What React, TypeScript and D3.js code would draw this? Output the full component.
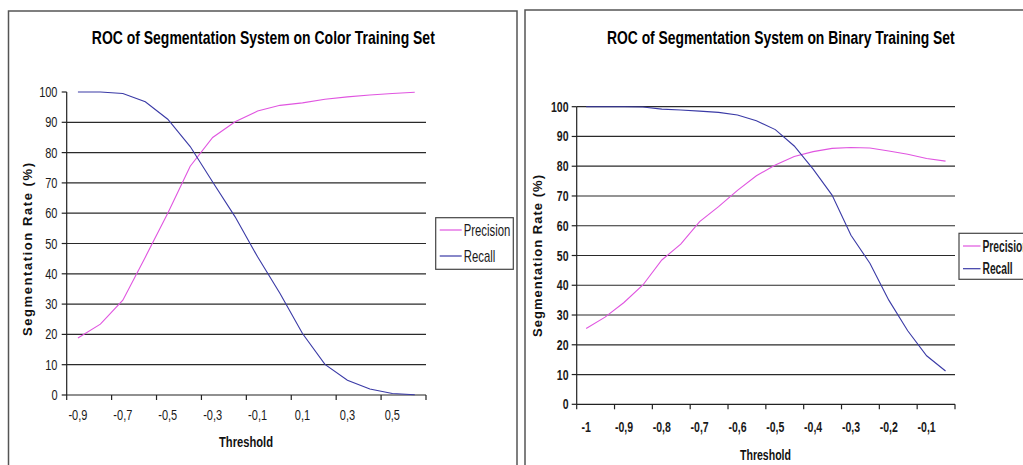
import React from "react";
import * as d3 from "d3";

// Color training set: thresholds -0.9 .. 0.6
const colorThresholds = [-0.9, -0.8, -0.7, -0.6, -0.5, -0.4, -0.3, -0.2, -0.1, 0, 0.1, 0.2, 0.3, 0.4, 0.5, 0.6];
const colorPrecision = [18.8, 23.4, 31.3, 45.5, 60, 75.5, 85, 90.2, 93.7, 95.6, 96.4, 97.6, 98.4, 99, 99.5, 99.9];
const colorRecall = [100, 100, 99.5, 96.8, 91, 82, 70.3, 58.8, 45.6, 33.5, 20.3, 10.1, 4.9, 2, 0.5, 0.1];

// Binary training set: thresholds -1 .. -0.05
const binaryThresholds = [-1, -0.95, -0.9, -0.85, -0.8, -0.75, -0.7, -0.65, -0.6, -0.55, -0.5, -0.45, -0.4, -0.35, -0.3, -0.25, -0.2, -0.15, -0.1, -0.05];
const binaryPrecision = [25.5, 29.3, 34.2, 40.1, 48.5, 53.8, 61.4, 66.4, 71.9, 76.8, 80.4, 83.3, 84.9, 86, 86.3, 86.1, 85.1, 84, 82.6, 81.7];
const binaryRecall = [100, 100, 100, 99.9, 99.2, 98.9, 98.5, 98.1, 97.2, 95.3, 92.3, 86.8, 79, 70.3, 56.8, 47.4, 35, 24.7, 16.3, 11.2];

const colorTickLabels = ["-0,9", "-0,7", "-0,5", "-0,3", "-0,1", "0,1", "0,3", "0,5"];
const binaryTickLabels = ["-1", "-0,9", "-0,8", "-0,7", "-0,6", "-0,5", "-0,4", "-0,3", "-0,2", "-0,1"];
const yTicks = [0, 10, 20, 30, 40, 50, 60, 70, 80, 90, 100];

const seriesNames = ["Precision", "Recall"];
const seriesColors = ["#e055e0", "#3a3aa6"];

const FONT = "'Liberation Sans', Arial, sans-serif";

// Measures a string so it can be squeezed to a given width
let measureCtx: CanvasRenderingContext2D | null = null;
function textWidth(text: string, size: number, bold: boolean): number {
  if (!measureCtx) {
    const c = document.createElement("canvas");
    measureCtx = c.getContext("2d");
  }
  if (!measureCtx) return text.length * size * 0.55;
  measureCtx.font = `${bold ? "bold " : ""}${size}px ${FONT}`;
  return measureCtx.measureText(text).width;
}

type LabelProps = {
  x: number;
  y: number;
  text: string;
  size: number;
  sx?: number;
  width?: number;
  anchor?: "start" | "middle" | "end";
  bold?: boolean;
  fill?: string;
};

// Narrow text: scaled horizontally around its anchor point
function Label({ x, y, text, size, sx, width, anchor = "start", bold = false, fill = "#1a1a1a" }: LabelProps) {
  const s = width !== undefined ? width / textWidth(text, size, bold) : sx ?? 1;
  return (
    <text
      transform={`translate(${x},${y}) scale(${s},1)`}
      textAnchor={anchor}
      fontSize={size}
      fontWeight={bold ? "bold" : "normal"}
      fontFamily={FONT}
      fill={fill}
    >
      {text}
    </text>
  );
}

type ChartProps = {
  thresholds: number[];
  precision: number[];
  recall: number[];
  tickLabels: string[];
  title: string;
  titleX: number;
  titleW: number;
  left: number;
  right: number;
  top: number;
  bottom: number;
  topGrid: boolean;
  tickSize: number;
  tickSx: number;
  tickBold: boolean;
  yLabelX: number;
  xLabelY: number;
  xTitleX: number;
  xTitleY: number;
  xTitleW: number;
  yTitleX: number;
  yTitleY: number;
  yTitleW: number;
  legend: { x: number; y: number; w: number; h: number; row1: number; row2: number; lineW: number; bold: boolean; sx: number };
};

function Chart(p: ChartProps) {
  const idx = p.thresholds.map((_, i) => i);
  const x = d3.scaleBand<number>().domain(idx).range([p.left, p.right]).paddingInner(0).paddingOuter(0);
  const y = d3.scaleLinear().domain([0, 100]).range([p.bottom, p.top]);
  const cx = (i: number) => (x(i) as number) + x.bandwidth() / 2;
  const line = d3
    .line<number>()
    .x((_, i) => cx(i))
    .y((d) => y(d));

  const gridVals = yTicks.filter((v) => v > 0 && (p.topGrid || v < 100));
  const tickBounds = d3.range(0, p.thresholds.length + 1, 2).map((i) => p.left + i * x.bandwidth());

  return (
    <g>
      <Label x={p.titleX} y={44} text={p.title} size={18} width={p.titleW} anchor="middle" bold fill="#000" />
      {gridVals.map((v) => (
        <line key={v} x1={p.left} x2={p.right} y1={y(v)} y2={y(v)} stroke="#2a2a2a" strokeWidth={1.2} />
      ))}
      {/* axes */}
      <line x1={p.left} x2={p.left} y1={p.top} y2={p.bottom} stroke="#222" strokeWidth={1.2} />
      <line x1={p.left} x2={p.right} y1={p.bottom} y2={p.bottom} stroke="#222" strokeWidth={1.2} />
      {yTicks.map((v) => (
        <g key={"yt" + v}>
          <line x1={p.left - 5} x2={p.left} y1={y(v)} y2={y(v)} stroke="#222" strokeWidth={1.2} />
          <Label x={p.yLabelX} y={y(v) + 5} text={String(v)} size={p.tickSize} sx={p.tickSx} anchor="end" bold={p.tickBold} />
        </g>
      ))}
      {tickBounds.map((bx, i) => (
        <line key={"xt" + i} x1={bx} x2={bx} y1={p.bottom} y2={p.bottom + 5} stroke="#222" strokeWidth={1.2} />
      ))}
      {p.tickLabels.map((t, k) => (
        <Label key={"xl" + k} x={cx(k * 2)} y={p.xLabelY} text={t} size={p.tickSize} sx={p.tickSx} anchor="middle" bold={p.tickBold} />
      ))}
      {/* series */}
      <path d={line(p.precision) || ""} fill="none" stroke={seriesColors[0]} strokeWidth={1.1} />
      <path d={line(p.recall) || ""} fill="none" stroke={seriesColors[1]} strokeWidth={1.1} />
      {/* axis titles */}
      <Label x={p.xTitleX} y={p.xTitleY} text="Threshold" size={15} width={p.xTitleW} anchor="middle" bold fill="#111" />
      <text
        transform={`translate(${p.yTitleX},${p.yTitleY}) rotate(-90)`}
        textAnchor="middle"
        fontSize={13}
        fontWeight="bold"
        fontFamily={FONT}
        textLength={p.yTitleW}
        lengthAdjust="spacing"
        fill="#111"
      >
        Segmentation Rate (%)
      </text>
      {/* legend */}
      <rect x={p.legend.x} y={p.legend.y} width={p.legend.w} height={p.legend.h} fill="#fff" stroke="#444" strokeWidth={1.2} />
      {seriesNames.map((name, i) => {
        const ly = i === 0 ? p.legend.row1 : p.legend.row2;
        return (
          <g key={name}>
            <line x1={p.legend.x + 4} x2={p.legend.x + 4 + p.legend.lineW} y1={ly} y2={ly} stroke={seriesColors[i]} strokeWidth={1.2} />
            <Label x={p.legend.x + 6 + p.legend.lineW} y={ly + 5.5} text={name} size={16} sx={p.legend.sx} bold={p.legend.bold} />
          </g>
        );
      })}
    </g>
  );
}

export default function App() {
  return (
    <svg
      width={1023}
      height={465}
      style={{ position: "absolute", left: 0, top: 0, background: "#fff" }}
    >
      <rect x={0} y={0} width={1023} height={465} fill="#fff" />
      {/* panel frames */}
      <rect x={8.5} y={11} width={508.5} height={470} fill="none" stroke="#555" strokeWidth={1.5} />
      <rect x={525} y={10} width={520} height={470} fill="none" stroke="#555" strokeWidth={1.5} />
      <Chart
        thresholds={colorThresholds}
        precision={colorPrecision}
        recall={colorRecall}
        tickLabels={colorTickLabels}
        title="ROC of Segmentation System on Color Training Set"
        titleX={263.3}
        titleW={343}
        left={66.7}
        right={426}
        top={92}
        bottom={395}
        topGrid={false}
        tickSize={14.5}
        tickSx={0.76}
        tickBold={false}
        yLabelX={57.5}
        xLabelY={419.5}
        xTitleX={246}
        xTitleY={446.5}
        xTitleW={54}
        yTitleX={32}
        yTitleY={249.5}
        yTitleW={173}
        legend={{ x: 435.7, y: 217.7, w: 77.6, h: 51.6, row1: 230, row2: 256, lineW: 22, bold: false, sx: 0.71 }}
      />
      <Chart
        thresholds={binaryThresholds}
        precision={binaryPrecision}
        recall={binaryRecall}
        tickLabels={binaryTickLabels}
        title="ROC of Segmentation System on Binary Training Set"
        titleX={780.8}
        titleW={348}
        left={576.7}
        right={955}
        top={106.7}
        bottom={404.3}
        topGrid={true}
        tickSize={15.5}
        tickSx={0.68}
        tickBold={true}
        yLabelX={568.5}
        xLabelY={432}
        xTitleX={765.5}
        xTitleY={460}
        xTitleW={51}
        yTitleX={542}
        yTitleY={256}
        yTitleW={162}
        legend={{ x: 959, y: 233.3, w: 90, h: 46, row1: 246, row2: 268.7, lineW: 17.5, bold: true, sx: 0.64 }}
      />
    </svg>
  );
}
